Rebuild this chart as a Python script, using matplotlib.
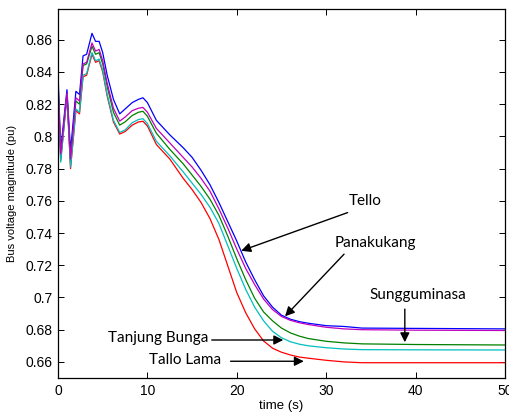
import matplotlib
matplotlib.use("Agg")
import matplotlib.pyplot as plt
from matplotlib.ticker import FuncFormatter

plt.rcParams['font.family'] = ['Liberation Sans', 'DejaVu Sans']

# time axis (s)
t = [0, 0.3, 1.0, 1.4, 2.0, 2.4, 2.8, 3.2, 3.8, 4.2, 4.6, 5.0, 5.5, 6.2, 6.9,
     7.5, 8.3, 9.0, 9.5, 10.0, 11.0, 12.5, 14.0, 15.0, 16.0, 17.0, 18.0, 19.0,
     20.0, 21.0, 22.0, 23.0, 24.0, 25.0, 26.0, 27.0, 28.0, 30.0, 32.0, 34.0,
     40.0, 50.0]

# bus voltage magnitudes (pu)
tello = [0.839, 0.792, 0.829, 0.791, 0.828, 0.826, 0.850, 0.851, 0.864, 0.859,
         0.859, 0.852, 0.838, 0.823, 0.814, 0.817, 0.821, 0.823, 0.824, 0.821,
         0.810, 0.801, 0.793, 0.787, 0.779, 0.770, 0.759, 0.747, 0.735, 0.722,
         0.711, 0.701, 0.694, 0.689, 0.6865, 0.685, 0.684, 0.6825, 0.682, 0.681,
         0.6808, 0.6805]
sungguminasa = [0.834, 0.787, 0.826, 0.784, 0.822, 0.820, 0.844, 0.845, 0.856, 0.851,
                0.852, 0.845, 0.831, 0.815, 0.807, 0.809, 0.813, 0.815, 0.8156, 0.8125,
                0.802, 0.792, 0.783, 0.776, 0.769, 0.761, 0.751, 0.738, 0.724, 0.711,
                0.6995, 0.691, 0.6855, 0.681, 0.678, 0.676, 0.6745, 0.6728, 0.6718, 0.6712,
                0.6708, 0.6705]
tallo_lama = [0.829, 0.785, 0.825, 0.780, 0.816, 0.814, 0.837, 0.838, 0.851, 0.846,
              0.847, 0.840, 0.825, 0.809, 0.8015, 0.803, 0.807, 0.809, 0.8094, 0.8065,
              0.795, 0.786, 0.774, 0.767, 0.759, 0.749, 0.736, 0.7195, 0.703, 0.6905,
              0.6805, 0.673, 0.6685, 0.666, 0.6643, 0.663, 0.6623, 0.661, 0.660, 0.6595,
              0.6595, 0.6595]
tanjung_bunga = [0.830, 0.784, 0.826, 0.781, 0.817, 0.815, 0.838, 0.839, 0.852, 0.847,
                 0.848, 0.841, 0.826, 0.810, 0.8025, 0.804, 0.8085, 0.8105, 0.811, 0.808,
                 0.797, 0.788, 0.778, 0.771, 0.764, 0.756, 0.746, 0.732, 0.718, 0.705,
                 0.694, 0.6855, 0.679, 0.675, 0.6725, 0.671, 0.670, 0.6688, 0.668, 0.6676,
                 0.6675, 0.6674]
panakukang = [0.832, 0.789, 0.827, 0.786, 0.824, 0.822, 0.845, 0.846, 0.858, 0.853,
              0.854, 0.847, 0.833, 0.8175, 0.8095, 0.812, 0.816, 0.8175, 0.818, 0.815,
              0.805, 0.796, 0.787, 0.781, 0.774, 0.766, 0.755, 0.743, 0.730, 0.718,
              0.708, 0.699, 0.6925, 0.6882, 0.6858, 0.6843, 0.6832, 0.6815, 0.6805, 0.680,
              0.6797, 0.6795]
# panakukang starts with a spike at t = 0
pan_start = [0.0, 1.0]

fig = plt.figure(figsize=(5.09, 4.17), dpi=100)
ax = fig.add_axes([0.114, 0.0935, 0.878, 0.8845])

lw = 0.9
ax.plot(t, tello, color='#0000ff', lw=lw)
ax.plot(t, sungguminasa, color='#008000', lw=lw)
ax.plot(t, tallo_lama, color='#ff0000', lw=lw)
ax.plot(t, tanjung_bunga, color='#00bfbf', lw=lw)
ax.plot([0, 0] + t, pan_start + panakukang, color='#bf00bf', lw=lw)

ax.set_xlim(0, 50)
ax.set_ylim(0.65, 0.879)
ax.set_xticks(range(0, 51, 10))
ax.set_yticks([0.66 + 0.02 * i for i in range(11)])
ax.yaxis.set_major_formatter(FuncFormatter(lambda v, p: f'{v:g}'))
ax.tick_params(direction='in', top=True, right=True, length=4, width=0.7,
               labelsize=10, pad=4)
for s in ax.spines.values():
    s.set_linewidth(0.9)

ax.set_xlabel('time (s)', fontsize=9.5, labelpad=2)
ax.set_ylabel('Bus voltage magnitude (pu)', fontsize=8, labelpad=6)

arrow = dict(arrowstyle='-|>', color='k', lw=1, mutation_scale=14,
             shrinkA=0, shrinkB=0)
lab = dict(fontsize=11, family=['Lato', 'DejaVu Sans'], va='center')

ax.annotate('', xy=(20.5, 0.729), xytext=(32.4, 0.7527), arrowprops=arrow)
ax.text(34.4, 0.760, 'Tello', ha='center', **lab)

ax.annotate('', xy=(25.4, 0.6883), xytext=(32.0, 0.7269), arrowprops=arrow)
ax.text(35.5, 0.7337, 'Panakukang', ha='center', **lab)

ax.annotate('', xy=(38.8, 0.6722), xytext=(38.8, 0.6928), arrowprops=arrow)
ax.text(40.3, 0.7015, 'Sungguminasa', ha='center', **lab)

ax.annotate('', xy=(25.2, 0.6736), xytext=(17.2, 0.6736), arrowprops=arrow)
ax.text(11.25, 0.675, 'Tanjung Bunga', ha='center', **lab)

ax.annotate('', xy=(27.5, 0.6604), xytext=(19.3, 0.6604), arrowprops=arrow)
ax.text(14.2, 0.661, 'Tallo Lama', ha='center', **lab)

fig.savefig('out.png', dpi=100)
